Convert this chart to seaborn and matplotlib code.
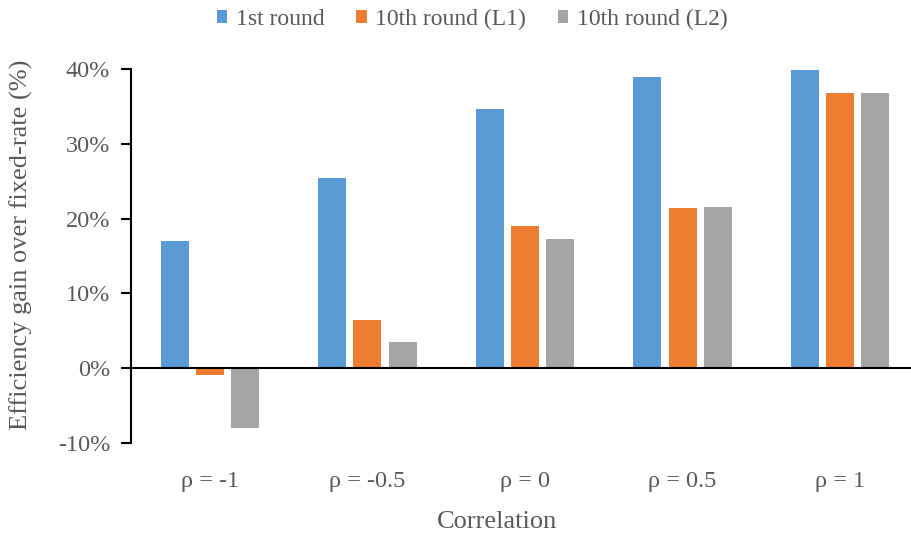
import matplotlib
matplotlib.use("Agg")
import matplotlib.pyplot as plt
import seaborn as sns
import pandas as pd
from matplotlib.ticker import FuncFormatter, MultipleLocator

categories = ["ρ = -1", "ρ = -0.5", "ρ = 0", "ρ = 0.5", "ρ = 1"]
series_names = ["1st round", "10th round (L1)", "10th round (L2)"]
first_round = [17.0, 25.4, 34.6, 38.9, 39.8]
tenth_l1 = [-0.9, 6.5, 19.0, 21.4, 36.8]
tenth_l2 = [-8.0, 3.5, 17.3, 21.6, 36.8]
colors = ["#5B9BD5", "#ED7D31", "#A5A5A5"]

df = pd.DataFrame({
    "Correlation": categories * 3,
    "Series": sum([[n] * len(categories) for n in series_names], []),
    "Gain": first_round + tenth_l1 + tenth_l2,
})

sns.set_theme(style="white")
plt.rcParams["font.family"] = ["Liberation Serif", "DejaVu Serif"]
text_color = "#595959"

fig = plt.figure(figsize=(9.11, 5.42), dpi=100)
ax = fig.add_axes([131 / 911, 1 - 443 / 542, (919 - 131) / 911, (443 - 69) / 542])

sns.barplot(data=df, x="Correlation", y="Gain", hue="Series",
            palette=colors, width=0.67, gap=0.2, ax=ax,
            order=categories, hue_order=series_names, saturation=1,
            edgecolor="none")

ax.set_ylim(-10, 40)
ax.set_xlim(-0.5, 4.5)
ax.yaxis.set_major_locator(MultipleLocator(10))
ax.yaxis.set_major_formatter(FuncFormatter(lambda v, p: f"{v:.0f}%"))
ax.axhline(0, color="black", lw=1.5, zorder=5)

for side in ["top", "right", "bottom"]:
    ax.spines[side].set_visible(False)
ax.spines["left"].set_color("black")
ax.spines["left"].set_linewidth(1.5)

ax.tick_params(axis="y", left=True, length=7, width=1.5, color="black",
               labelsize=17.5, labelcolor=text_color, pad=8, direction="out")
ax.tick_params(axis="x", bottom=False, labelsize=17.5, labelcolor=text_color, pad=14)

ax.set_xlabel("Correlation", fontsize=19, color=text_color, va="center", ha="center")
ax.xaxis.set_label_coords((497 - 131) / 788, -(522 - 443) / 374)
ax.set_ylabel("Efficiency gain over fixed-rate (%)", fontsize=19, color=text_color,
              va="center", ha="center")
ax.yaxis.set_label_coords(-(131 - 21) / 788, (443 - 245) / 374)

handles, labels = ax.get_legend_handles_labels()
leg = ax.legend(handles, labels, loc="center", bbox_to_anchor=((472 - 131) / 788, 1 + (69 - 19) / 374),
                ncol=3, frameon=False, fontsize=17, handlelength=0.45, handleheight=0.45,
                handletextpad=0.35, columnspacing=1.35)
for t in leg.get_texts():
    t.set_color(text_color)

fig.savefig("out.png", dpi=100)
